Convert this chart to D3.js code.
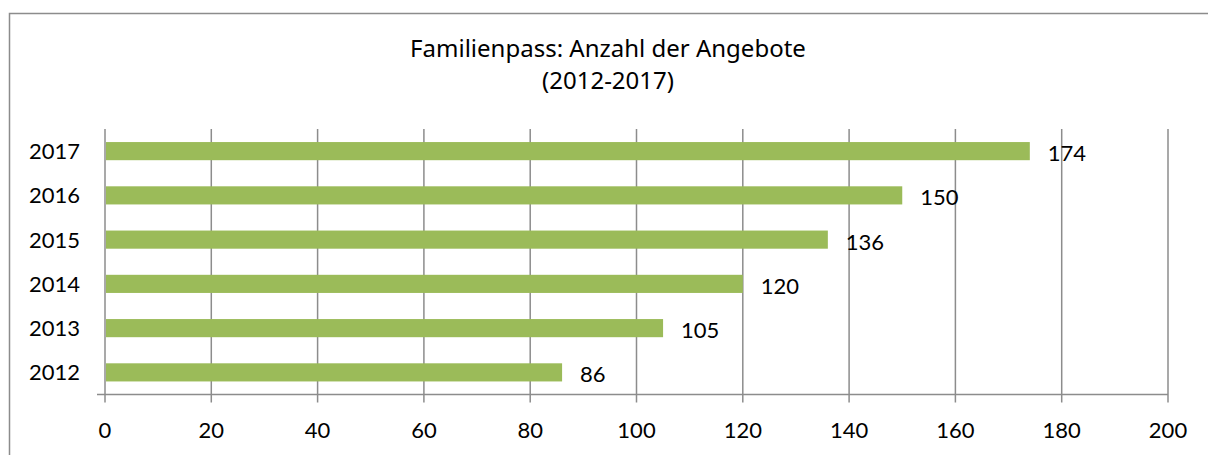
<!DOCTYPE html>
<html>
<head>
<meta charset="utf-8">
<script src="https://cdn.jsdelivr.net/npm/d3@7"></script>
<style>
  body { margin: 0; background: #fff; }
  text { font-family: Lato, "Open Sans", sans-serif; fill: #000; }
</style>
</head>
<body>
<div class="canvas"></div>
<script>
// data
const years = ['2017', '2016', '2015', '2014', '2013', '2012'];
const offers = [174, 150, 136, 120, 105, 86];
const xTicks = [0, 20, 40, 60, 80, 100, 120, 140, 160, 180, 200];
const titleLines = ['Familienpass: Anzahl der Angebote', '(2012-2017)'];

const dims = {width: 1208, height: 455};
const plot = {left: 105, right: 1168, top: 129, bottom: 394.5};

const svg = d3.select('.canvas')
    .append('svg')
    .attr('width', dims.width)
    .attr('height', dims.height);

// outer chart border (top + left visible)
svg.append('path')
    .attr('d', `M9.5,${dims.height} V13.5 H${dims.width}`)
    .attr('fill', 'none')
    .attr('stroke', '#8c8c8c')
    .attr('stroke-width', 1.5);

// title
svg.append('g')
    .selectAll('text')
    .data(titleLines)
    .enter()
    .append('text')
    .attr('x', 608)
    .attr('y', (d, i) => 57 + i * 32)
    .attr('text-anchor', 'middle')
    .style('font-family', '"Noto Sans", sans-serif')
    .style('font-size', '24px')
    .text(d => d);

const x = d3.scaleLinear()
    .domain([0, 200])
    .range([plot.left, plot.right]);

const y = d3.scaleBand()
    .domain(years)
    .range([plot.top, plot.bottom])
    .paddingInner(0.59)
    .paddingOuter(0.295);

// vertical gridlines
svg.append('g')
    .selectAll('line')
    .data(xTicks)
    .enter()
    .append('line')
    .attr('x1', d => x(d))
    .attr('x2', d => x(d))
    .attr('y1', plot.top)
    .attr('y2', plot.bottom + 8)
    .attr('stroke', '#8c8c8c')
    .attr('stroke-width', 1.5);

// x axis baseline
svg.append('line')
    .attr('x1', plot.left - 8)
    .attr('x2', plot.right)
    .attr('y1', plot.bottom)
    .attr('y2', plot.bottom)
    .attr('stroke', '#8c8c8c')
    .attr('stroke-width', 1.5);

// x tick labels
svg.append('g')
    .selectAll('text')
    .data(xTicks)
    .enter()
    .append('text')
    .attr('x', d => x(d))
    .attr('y', 438)
    .attr('text-anchor', 'middle')
    .style('font-size', '22px')
    .text(d => d);

// year labels
svg.append('g')
    .selectAll('text')
    .data(years)
    .enter()
    .append('text')
    .attr('x', 80)
    .attr('y', d => y(d) + y.bandwidth() / 2)
    .attr('dy', '0.36em')
    .attr('text-anchor', 'end')
    .style('font-size', '22px')
    .text(d => d);

// bars
svg.append('g')
    .selectAll('rect')
    .data(offers)
    .enter()
    .append('rect')
    .attr('x', x(0) + 1)
    .attr('y', (d, i) => y(years[i]))
    .attr('width', d => x(d) - x(0) - 1)
    .attr('height', y.bandwidth())
    .attr('fill', '#9bbb59');

// value labels
svg.append('g')
    .selectAll('text')
    .data(offers)
    .enter()
    .append('text')
    .attr('x', d => x(d) + 18)
    .attr('y', (d, i) => y(years[i]) + y.bandwidth() / 2 + 2)
    .attr('dy', '0.36em')
    .style('font-size', '22px')
    .text(d => d);
</script>
</body>
</html>
